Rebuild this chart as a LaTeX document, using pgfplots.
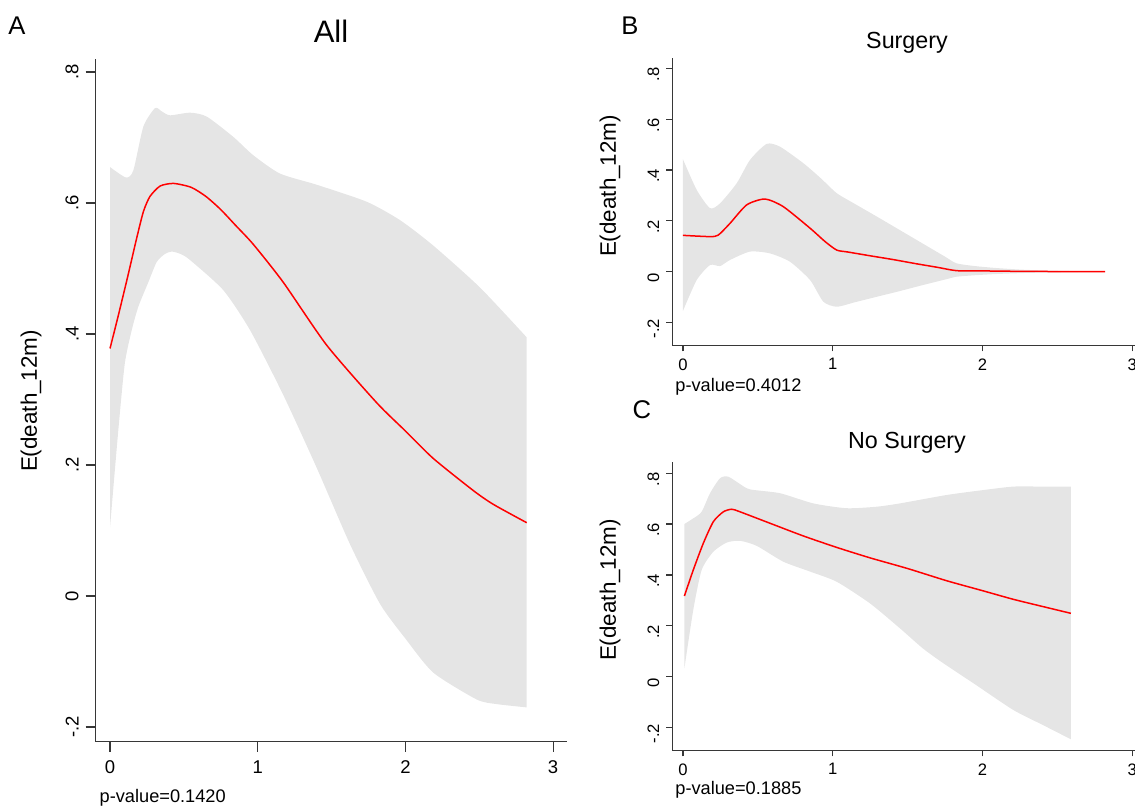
\documentclass[border=0pt]{standalone}
\usepackage{fontspec}
\setmainfont{Liberation Sans}
\usepackage{pgfplots}
\pgfplotsset{compat=1.18}
\usepgfplotslibrary{fillbetween}
\definecolor{band}{RGB}{229,229,229}
\definecolor{axc}{RGB}{55,55,55}
\pgfplotsset{
  stata/.style={
    scale only axis,
    axis x line=bottom, axis y line=left,
    axis line style={-, axc, line width=0.7pt},
    every tick/.style={axc, line width=0.6pt},
    tick align=outside,
    xtick={0,1,2,3}, xticklabels={0,1,2,3},
    ytick={-0.2,0,0.2,0.4,0.6,0.8}, yticklabels={-.2,0,.2,.4,.6,.8},
    yticklabel style={rotate=90, anchor=south},
    xticklabel style={anchor=north},
    /pgf/number format/assume math mode=true,
  },
  bandline/.style={draw=none, smooth, tension=0.4, forget plot},
  redline/.style={red, line width=0.75pt, smooth, tension=0.4},
}
\begin{document}
\begin{tikzpicture}
% ---------------- Panel A ----------------
\begin{axis}[stata,
  at={(47.85pt,33.15pt)}, anchor=south west,
  width=235.65pt, height=341.35pt,
  xmin=-0.097, xmax=3.094, ymin=-0.2224, ymax=0.820,
  major tick length=5pt,
  tick label style={font=\fontsize{9.25}{11}\selectfont},
  xticklabel style={yshift=-1pt},
]
\addplot[bandline, name path=aup] coordinates {
(0,0.655)(0.108,0.639)(0.158,0.650)(0.226,0.717)(0.305,0.745)(0.35,0.740)(0.406,0.734)(0.542,0.738)(0.655,0.732)(0.835,0.701)(0.970,0.673)(1.151,0.645)(1.399,0.628)(1.738,0.602)(1.963,0.574)(2.189,0.535)(2.505,0.471)(2.821,0.395)};
\addplot[bandline, name path=alo] coordinates {
(0,0.105)(0.056,0.253)(0.10,0.355)(0.147,0.406)(0.192,0.442)(0.259,0.479)(0.316,0.510)(0.37,0.522)(0.418,0.526)(0.48,0.522)(0.542,0.513)(0.767,0.467)(0.948,0.406)(1.173,0.307)(1.399,0.196)(1.625,0.079)(1.828,-0.012)(2.0,-0.065)(2.189,-0.117)(2.483,-0.158)(2.618,-0.165)(2.821,-0.170)};
\addplot[band, draw=none, forget plot] fill between[of=aup and alo];
\addplot[redline] coordinates {
(0,0.378)(0.06,0.432)(0.12,0.488)(0.18,0.546)(0.226,0.587)(0.27,0.610)(0.339,0.626)(0.43,0.630)(0.55,0.624)(0.65,0.610)(0.75,0.590)(0.85,0.566)(0.97,0.537)(1.173,0.479)(1.467,0.383)(1.806,0.295)(2.0,0.252)(2.189,0.21)(2.46,0.161)(2.595,0.140)(2.821,0.112)};
\end{axis}
% ---------------- Panel B ----------------
\begin{axis}[stata,
  at={(336.15pt,231.25pt)}, anchor=south west,
  width=233.75pt, height=143.6pt,
  xmin=-0.0708, xmax=3.05, ymin=-0.2906, ymax=0.840,
  major tick length=3pt,
  tick label style={font=\fontsize{8.3}{10}\selectfont},
  yticklabel style={xshift=-3pt},
]
\addplot[bandline, name path=bup] coordinates {
(0,0.443)(0.092,0.322)(0.181,0.250)(0.248,0.269)(0.359,0.348)(0.448,0.440)(0.559,0.503)(0.648,0.492)(0.804,0.427)(0.92,0.368)(1.027,0.309)(1.15,0.266)(1.3,0.215)(1.45,0.163)(1.6,0.111)(1.75,0.059)(1.826,0.033)(1.95,0.022)(2.1,0.014)(2.294,0.007)(2.55,0.003)(2.818,0)};
\addplot[bandline, name path=blo] coordinates {
(0,-0.155)(0.092,-0.033)(0.181,0.026)(0.248,0.022)(0.314,0.046)(0.448,0.079)(0.581,0.072)(0.715,0.039)(0.849,-0.033)(0.937,-0.118)(1.027,-0.138)(1.15,-0.120)(1.3,-0.098)(1.45,-0.076)(1.6,-0.053)(1.75,-0.031)(1.826,-0.020)(1.95,-0.014)(2.1,-0.009)(2.294,-0.005)(2.55,-0.002)(2.818,0)};
\addplot[band, draw=none, forget plot] fill between[of=bup and blo];
\addplot[redline] coordinates {
(0,0.143)(0.181,0.138)(0.236,0.144)(0.314,0.190)(0.426,0.263)(0.548,0.286)(0.670,0.256)(0.849,0.171)(0.95,0.118)(1.027,0.085)(1.1,0.0775)(1.25,0.0625)(1.4,0.048)(1.55,0.032)(1.7,0.017)(1.826,0.004)(2.0,0.003)(2.3,0.001)(2.818,0)};
\end{axis}
% ---------------- Panel C ----------------
\begin{axis}[stata,
  at={(336.15pt,28.75pt)}, anchor=south west,
  width=233.75pt, height=144.25pt,
  xmin=-0.0708, xmax=3.05, ymin=-0.290, ymax=0.8436,
  major tick length=3pt,
  tick label style={font=\fontsize{8.3}{10}\selectfont},
  yticklabel style={xshift=-3pt},
]
\addplot[bandline, name path=cup] coordinates {
(0.01,0.600)(0.069,0.622)(0.125,0.648)(0.181,0.721)(0.248,0.780)(0.303,0.786)(0.381,0.757)(0.448,0.736)(0.648,0.721)(0.870,0.681)(1.093,0.662)(1.294,0.668)(1.449,0.681)(1.761,0.714)(2.0,0.733)(2.206,0.747)(2.4,0.747)(2.59,0.747)};
\addplot[bandline, name path=clo] coordinates {
(0.01,0.033)(0.069,0.262)(0.125,0.419)(0.203,0.491)(0.292,0.527)(0.381,0.534)(0.493,0.514)(0.670,0.452)(0.849,0.413)(1.027,0.373)(1.249,0.288)(1.449,0.190)(1.6,0.112)(1.738,0.053)(1.95,-0.030)(2.206,-0.131)(2.4,-0.189)(2.59,-0.246)};
\addplot[band, draw=none, forget plot] fill between[of=cup and clo];
\addplot[redline] coordinates {
(0.01,0.317)(0.069,0.419)(0.136,0.524)(0.203,0.609)(0.270,0.648)(0.326,0.658)(0.381,0.648)(0.581,0.603)(0.804,0.553)(1.027,0.508)(1.249,0.467)(1.5,0.425)(1.761,0.377)(2.0,0.338)(2.206,0.304)(2.4,0.276)(2.59,0.249)};
\end{axis}
% ---------------- Texts ----------------
\node[font=\fontsize{12.8}{14}\selectfont] at (8.5pt,391pt) {A};
\node[font=\fontsize{12.8}{14}\selectfont] at (315pt,391pt) {B};
\node[font=\fontsize{12.8}{14}\selectfont] at (320.9pt,199pt) {C};
\node[font=\fontsize{15.5}{17}\selectfont] at (165.5pt,388.5pt) {All};
\node[font=\fontsize{11.65}{13}\selectfont] at (453.5pt,382.65pt) {Surgery};
\node[font=\fontsize{11.65}{13}\selectfont] at (453.5pt,182.65pt) {No Surgery};
\node[font=\fontsize{11.2}{13}\selectfont, rotate=90] at (15.5pt,203.5pt) {E(death\_12m)};
\node[font=\fontsize{11.2}{13}\selectfont, rotate=90] at (305pt,311pt) {E(death\_12m)};
\node[font=\fontsize{11.2}{13}\selectfont, rotate=90] at (305pt,109pt) {E(death\_12m)};
\node[font=\fontsize{9.1}{11}\selectfont, anchor=base west, inner sep=0pt] at (49.65pt,2.5pt) {p-value=0.1420};
\node[font=\fontsize{9.1}{11}\selectfont, anchor=base west, inner sep=0pt] at (337.5pt,208.2pt) {p-value=0.4012};
\node[font=\fontsize{9.1}{11}\selectfont, anchor=base west, inner sep=0pt] at (337.5pt,6.5pt) {p-value=0.1885};
\pgfresetboundingbox
\path[use as bounding box] (0,0) rectangle (567.5pt,404pt);
\end{tikzpicture}
\end{document}
